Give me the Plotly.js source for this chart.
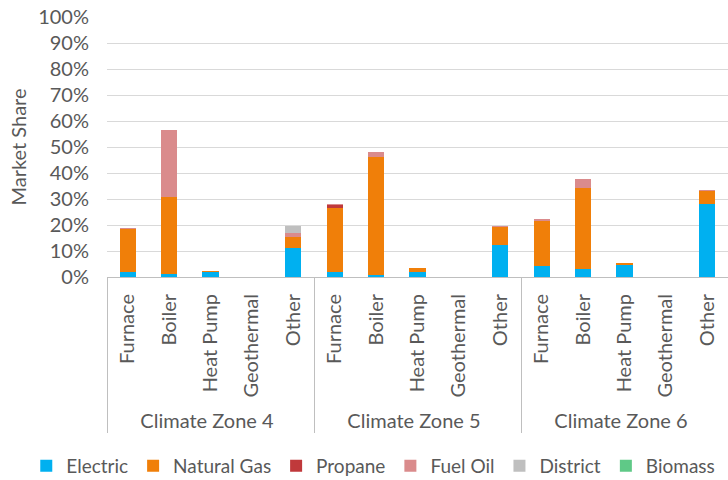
<!DOCTYPE html>
<html>
<head>
<meta charset="utf-8">
<script src="https://cdn.plot.ly/plotly-3.0.1.min.js"></script>
<style>html,body{margin:0;padding:0;background:#fff;}#chart{width:728px;height:480px;}</style>
</head>
<body>
<div id="chart"></div>
<script>
const zones = ['Climate Zone 4', 'Climate Zone 5', 'Climate Zone 6'];
const types = ['Furnace', 'Boiler', 'Heat Pump', 'Geothermal', 'Other'];
const seriesNames = ['Electric', 'Natural Gas', 'Propane', 'Fuel Oil', 'District', 'Biomass'];
const seriesColors = ['#00B0F0', '#F07F09', '#C0393B', '#DA8B8C', '#BFBFBF', '#5FC987'];
// values in % per zone (Furnace, Boiler, Heat Pump, Geothermal, Other)
const electric   = [2.0, 1.0, 1.8, 0, 11.3,  1.9, 0.8, 1.8, 0, 12.3,  4.4, 2.9, 4.6, 0, 28.1];
const naturalGas = [16.5, 29.9, 0.7, 0, 4.2,  24.6, 45.5, 1.5, 0, 7.1,  17.3, 31.5, 0.7, 0, 5.1];
const propane    = [0, 0, 0, 0, 0,  1.3, 0, 0, 0, 0,  0, 0, 0, 0, 0];
const fuelOil    = [0.3, 25.5, 0, 0, 1.3,  0.4, 1.9, 0, 0, 0.3,  0.5, 3.4, 0.2, 0, 0.4];
const district   = [0, 0, 0, 0, 2.8,  0, 0, 0, 0, 0,  0, 0, 0, 0, 0];
const biomass    = [0, 0, 0, 0, 0,  0, 0, 0, 0, 0,  0, 0, 0, 0, 0];

const seriesValues = [electric, naturalGas, propane, fuelOil, district, biomass];
const outer = [], inner = [];
zones.forEach(z => types.forEach(t => { outer.push(z); inner.push(t); }));

const font = 'Lato, "Open Sans", sans-serif';
const fs = 20;
const col = '#595959';
const traces = seriesNames.map((n, i) => ({
  type: 'bar', name: n, x: [outer, inner], y: seriesValues[i],
  marker: {color: seriesColors[i]}, hoverinfo: 'skip'
}));

const layout = {
  width: 728, height: 480,
  margin: {l: 107, r: 0, t: 17, b: 203, autoexpand: false},
  barmode: 'stack', bargap: 0.61,
  paper_bgcolor: '#fff', plot_bgcolor: '#fff',
  font: {family: font, size: fs, color: col},
  xaxis: {
    type: 'multicategory', tickangle: -90, automargin: false,
    showline: true, linecolor: '#BFBFBF', linewidth: 1,
    showgrid: false, ticks: '', showdividers: true, dividercolor: '#BFBFBF', dividerwidth: 1,
    ticklabelstandoff: 8,
    tickfont: {family: font, size: fs, color: col}
  },
  yaxis: {
    range: [0, 100], dtick: 10, ticksuffix: '%', automargin: false,
    showgrid: true, gridcolor: '#D9D9D9', gridwidth: 1,
    zeroline: false, showline: false, ticks: '',
    ticklabelstandoff: 17,
    tickfont: {family: font, size: fs, color: col},
    title: {text: 'Market Share', font: {family: font, size: fs, color: col}, standoff: 6}
  },
  legend: {
    orientation: 'h', x: -0.13, xanchor: 'left', xref: 'paper',
    y: -0.727, yanchor: 'middle', yref: 'paper',
    font: {family: font, size: 19, color: col},
    traceorder: 'normal', itemwidth: 30
  },
  showlegend: true
};

Plotly.newPlot('chart', traces, layout, {displayModeBar: false, staticPlot: true});
</script>
</body>
</html>
